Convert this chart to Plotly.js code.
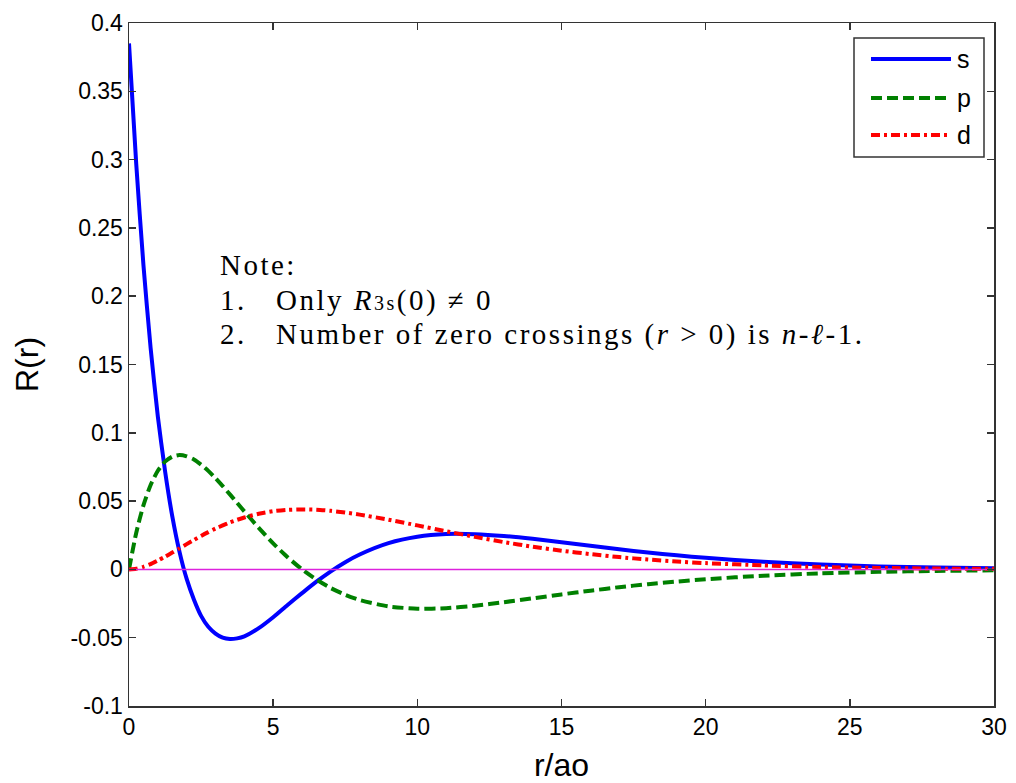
<!DOCTYPE html>
<html>
<head>
<meta charset="utf-8">
<script src="https://cdn.plot.ly/plotly-3.0.1.min.js"></script>
<style>html,body{margin:0;padding:0;background:#fff;}#chart{width:1016px;height:783px;}
text.annotation-text{letter-spacing:2.5px;}
</style>
</head>
<body>
<div id="chart"></div>
<script>
// r / a0 sample positions
var rVals = [0,0.25,0.5,0.75,1,1.25,1.5,1.75,2,2.25,2.5,2.75,3,3.25,3.5,3.75,4,4.5,5,5.5,6,6.5,7,7.5,8,9,10,11,12,13,14,15,16,17,18,19,20,22,24,26,28,30];
// s curve
var sVals = [0.385,0.297,0.223,0.162,0.112,0.072,0.039,0.013,-0.007,-0.022,-0.034,-0.042,-0.047,-0.050,-0.051,-0.0505,-0.049,-0.043,-0.035,-0.026,-0.0174,-0.009,-0.0014,0.0053,0.0109,0.0192,0.0239,0.0259,0.0258,0.0245,0.0224,0.0199,0.0173,0.0147,0.0124,0.0103,0.0085,0.0056,0.0036,0.0022,0.0014,0.0008];
// p curve
var pVals = [0,0.0267,0.0469,0.0618,0.0722,0.0789,0.0825,0.0837,0.0828,0.0805,0.0767,0.0721,0.0668,0.061,0.0549,0.0487,0.0425,0.0304,0.019,0.0089,0,-0.0075,-0.0137,-0.0186,-0.0224,-0.0271,-0.0288,-0.0284,-0.0266,-0.024,-0.0212,-0.0183,-0.0156,-0.013,-0.0108,-0.0089,-0.0072,-0.0046,-0.0029,-0.0018,-0.0011,-0.0007];
// d curve
var dVals = [0,0.0005,0.0019,0.0039,0.0065,0.0093,0.0123,0.0154,0.0185,0.0215,0.0245,0.0273,0.0299,0.0322,0.0344,0.0363,0.038,0.0407,0.0426,0.0436,0.0439,0.0437,0.0429,0.0416,0.0401,0.0364,0.0322,0.0279,0.0238,0.02,0.0166,0.0137,0.0112,0.009,0.0072,0.0058,0.0046,0.0029,0.0017,0.0011,0.0006,0.0004];
var zeroX = [0,30];
var zeroY = [0,0];
var legendNames = ['s','p','d'];
var xTicks = [0,5,10,15,20,25,30];
var yTicks = [-0.1,-0.05,0,0.05,0.1,0.15,0.2,0.25,0.3,0.35,0.4];

var colors = ['#0000ff','#008000','#ff0000'];
var dashes = ['solid','11px,5px','9px,4px,3px,4px'];
var series = [sVals,pVals,dVals];

var traces = series.map(function(v,i){
  return {x:rVals,y:v,type:'scatter',mode:'lines',name:legendNames[i],
    line:{color:colors[i],width:4,dash:dashes[i],shape:'spline',smoothing:0.6},
    showlegend:false,hoverinfo:'x+y'};
});
traces.push({x:zeroX,y:zeroY,type:'scatter',mode:'lines',line:{color:'#dd22dd',width:1.5},showlegend:false,name:'zero'});

var axisFont = {family:'Liberation Sans, Arial, sans-serif',size:23,color:'#000'};

// custom legend built from the names
var L = 129, W = 865, T = 23, H = 683;
function px(x){return (x-L)/W;}
function py(y){return (T+H-y)/H;}
var shapes = [{type:'rect',xref:'paper',yref:'paper',x0:px(854),x1:px(984),y0:py(157),y1:py(38),line:{color:'#333',width:1.5},fillcolor:'#fff',layer:'above'}];
var annotations = [];
var legY = [59,98,135];
legendNames.forEach(function(n,i){
  shapes.push({type:'line',xref:'paper',yref:'paper',x0:px(871),x1:px(951),y0:py(legY[i]),y1:py(legY[i]),line:{color:colors[i],width:4,dash:dashes[i]},layer:'above'});
  annotations.push({xref:'paper',yref:'paper',x:px(955),y:py(legY[i]),xanchor:'left',yanchor:'middle',text:n,showarrow:false,font:{family:'Liberation Sans, Arial, sans-serif',size:25,color:'#000'}});
});

var noteFont = {family:'Liberation Serif, Times New Roman, serif',size:29,color:'#000'};
annotations.push({xref:'paper',yref:'paper',x:px(218),y:py(265),xanchor:'left',yanchor:'middle',text:'Note:',showarrow:false,font:noteFont});
annotations.push({xref:'paper',yref:'paper',x:px(218),y:py(300),xanchor:'left',yanchor:'middle',text:'1.',showarrow:false,font:noteFont});
annotations.push({xref:'paper',yref:'paper',x:px(218),y:py(334),xanchor:'left',yanchor:'middle',text:'2.',showarrow:false,font:noteFont});
annotations.push({xref:'paper',yref:'paper',x:px(274),y:py(300),xanchor:'left',yanchor:'middle',text:'Only <i>R</i><span style="font-size:20px">3s</span>(0) ≠ 0',showarrow:false,font:noteFont});
annotations.push({xref:'paper',yref:'paper',x:px(274),y:py(334),xanchor:'left',yanchor:'middle',text:'Number of zero crossings (<i>r</i> > 0) is <i>n</i>-<i>ℓ</i>-1.',showarrow:false,font:noteFont});

var layout = {
  width:1016,height:783,
  margin:{l:L,r:1016-L-W,t:T,b:783-T-H,pad:0},
  paper_bgcolor:'#fff',plot_bgcolor:'#fff',
  showlegend:false,
  xaxis:{range:[0,30],tickvals:xTicks,ticktext:xTicks.map(String),ticks:'inside',ticklen:7,tickwidth:1.5,tickcolor:'#333',
    showline:true,linecolor:'#333',linewidth:1.5,mirror:'ticks',showgrid:false,zeroline:false,tickfont:axisFont,
    title:{text:'r/ao',font:{family:'Liberation Sans, Arial, sans-serif',size:32,color:'#000'},standoff:21}},
  yaxis:{range:[-0.1,0.4],tickvals:yTicks,ticktext:yTicks.map(String),ticks:'inside',ticklen:7,tickwidth:1.5,tickcolor:'#333',
    showline:true,linecolor:'#333',linewidth:1.5,mirror:'ticks',showgrid:false,zeroline:false,tickfont:axisFont,
    title:{text:'R(r)',font:{family:'Liberation Sans, Arial, sans-serif',size:32,color:'#000'},standoff:22}},
  shapes:shapes,
  annotations:annotations
};
Plotly.newPlot('chart',traces,layout,{displayModeBar:false,staticPlot:true});
</script>
</body>
</html>
